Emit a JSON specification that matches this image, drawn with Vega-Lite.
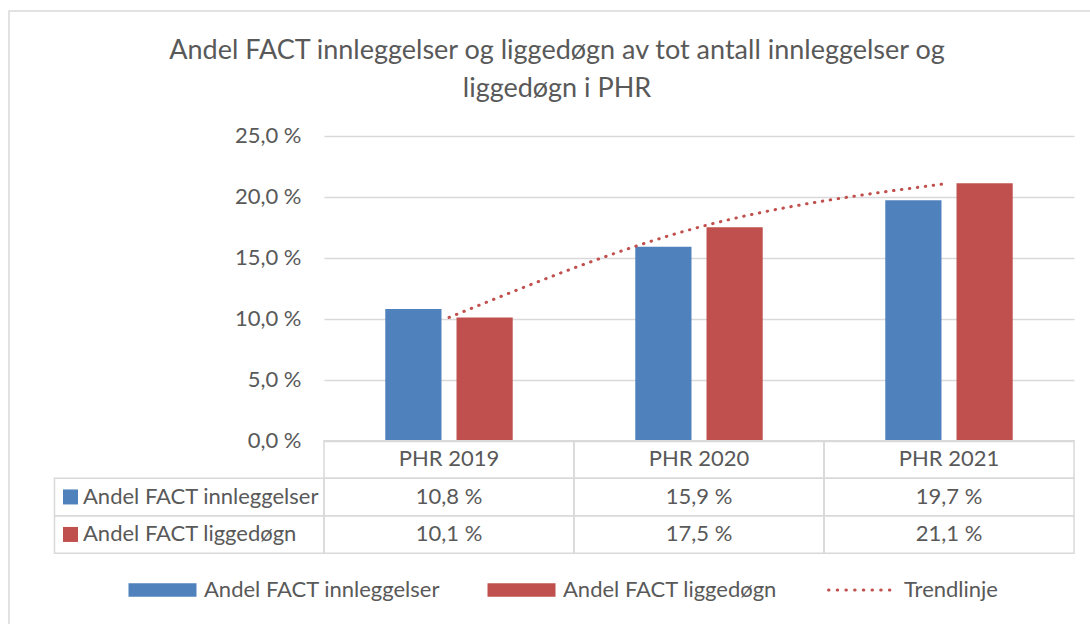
{
  "$schema": "https://vega.github.io/schema/vega-lite/v6.json",
  "autosize": "none",
  "padding": {"left": 9, "top": 11, "right": -5, "bottom": -5},
  "width": 1086,
  "height": 618,
  "background": "white",
  "config": {
    "font": "Lato",
    "view": {"stroke": "#D9D9D9", "strokeWidth": 1.5},
    "locale": {"number": {"decimal": ",", "thousands": " ", "grouping": [3], "currency": ["", " kr"], "percent": " %"}}
  },
  "title": {
    "text": ["Andel FACT innleggelser og liggedøgn av tot antall innleggelser og", "liggedøgn i PHR"],
    "font": "Lato", "fontSize": 27, "fontWeight": "normal", "color": "#595959",
    "anchor": "middle", "baseline": "top", "offset": -92, "lineHeight": 38, "dx": 5
  },
  "datasets": {
    "bars": [
      {"periode": "PHR 2019", "serie": "Andel FACT innleggelser", "andel": 0.108},
      {"periode": "PHR 2019", "serie": "Andel FACT liggedøgn", "andel": 0.101},
      {"periode": "PHR 2020", "serie": "Andel FACT innleggelser", "andel": 0.159},
      {"periode": "PHR 2020", "serie": "Andel FACT liggedøgn", "andel": 0.175},
      {"periode": "PHR 2021", "serie": "Andel FACT innleggelser", "andel": 0.197},
      {"periode": "PHR 2021", "serie": "Andel FACT liggedøgn", "andel": 0.211}
    ]
  },
  "data": {"name": "bars"},
  "layer": [
    {
      "mark": {"type": "bar"},
      "encoding": {
        "x": {"field": "periode", "type": "nominal", "axis": null,
              "scale": {"domain": ["PHR 2019", "PHR 2020", "PHR 2021"], "range": [315, 1065], "paddingInner": 0, "paddingOuter": 0}},
        "xOffset": {"field": "serie", "type": "nominal",
              "scale": {"domain": ["Andel FACT innleggelser", "Andel FACT liggedøgn"], "paddingInner": 0.211, "paddingOuter": 0.86}},
        "y": {"field": "andel", "type": "quantitative",
              "scale": {"domain": [0, 0.25], "range": [429.7, 124.7], "nice": false, "zero": true},
              "axis": {"title": null, "format": ".1%", "values": [0, 0.05, 0.1, 0.15, 0.2, 0.25],
                       "domain": false, "ticks": false, "tickSize": 0, "labelPadding": 0, "offset": -292,
                       "grid": true, "gridColor": "#D9D9D9", "gridWidth": 1.5,
                       "labelFont": "Lato", "labelFontSize": 22, "labelColor": "#595959"}},
        "color": {"field": "serie", "type": "nominal",
              "scale": {"domain": ["Andel FACT innleggelser", "Andel FACT liggedøgn", "Trendlinje"], "range": ["#4F81BD", "#C0504D", "#C0504D"]},
              "legend": {
                "orient": "none", "legendX": 117, "legendY": 568, "direction": "horizontal", "title": null,
                "padding": 0, "columnPadding": 44, "labelOffset": 56, "labelLimit": 0,
                "symbolType": "M-1,-0.79H7V0.79H-1Z", "symbolSize": 289, "symbolStrokeWidth": 0,
                "labelFont": "Lato", "labelFontSize": 22, "labelColor": "#595959",
                "encode": {
                  "symbols": {
                    "update": {
                      "shape": {"signal": "datum.value === 'Trendlinje' ? 'M-1,0H7' : 'M-1,-0.79H7V0.79H-1Z'"},
                      "fill": {"signal": "datum.value === 'Andel FACT innleggelser' ? '#4F81BD' : (datum.value === 'Andel FACT liggedøgn' ? '#C0504D' : 'transparent')"},
                      "stroke": {"signal": "datum.value === 'Trendlinje' ? '#C0504D' : 'transparent'"},
                      "strokeWidth": {"signal": "datum.value === 'Trendlinje' ? 3 : 0"},
                      "strokeDash": {"signal": "datum.value === 'Trendlinje' ? [0.5, 8.2] : [1, 0]"},
                      "strokeCap": {"value": "round"},
                      "opacity": {"value": 1}
                    }
                  }
                }
              }}
      }
    },
    {
      "transform": [{"filter": "datum.serie === 'Andel FACT liggedøgn'"}],
      "mark": {"type": "line", "interpolate": "monotone", "strokeDash": [0.5, 7.5], "strokeCap": "round", "strokeWidth": 3},
      "encoding": {
        "x": {"field": "periode", "type": "nominal", "axis": null,
              "scale": {"domain": ["PHR 2019", "PHR 2020", "PHR 2021"], "range": [315, 1065], "paddingInner": 0, "paddingOuter": 0}},
        "y": {"field": "andel", "type": "quantitative", "axis": null,
              "scale": {"domain": [0, 0.25], "range": [429.7, 124.7], "nice": false, "zero": true}},
        "color": {"datum": "Trendlinje", "type": "nominal"}
      }
    },
    {
      "mark": {"type": "rect", "fill": "transparent", "stroke": "#D9D9D9", "strokeWidth": 1.5},
      "encoding": {
        "x": {"field": "periode", "type": "nominal", "axis": null,
              "scale": {"domain": ["PHR 2019", "PHR 2020", "PHR 2021"], "range": [315, 1065], "paddingInner": 0, "paddingOuter": 0}},
        "y": {"field": "serie", "type": "nominal", "axis": null,
              "scale": {"domain": ["header", "Andel FACT innleggelser", "Andel FACT liggedøgn"], "range": [429.7, 542.2], "paddingInner": 0, "paddingOuter": 0}}
      }
    },
    {
      "transform": [{"filter": "datum.serie === 'Andel FACT innleggelser'"}],
      "mark": {"type": "rect", "fill": "transparent", "stroke": "#D9D9D9", "strokeWidth": 1.5},
      "encoding": {
        "x": {"field": "periode", "type": "nominal", "axis": null,
              "scale": {"domain": ["PHR 2019", "PHR 2020", "PHR 2021"], "range": [315, 1065], "paddingInner": 0, "paddingOuter": 0}},
        "y": {"datum": "header", "type": "nominal", "axis": null,
              "scale": {"domain": ["header", "Andel FACT innleggelser", "Andel FACT liggedøgn"], "range": [429.7, 542.2], "paddingInner": 0, "paddingOuter": 0}}
      }
    },
    {
      "mark": {"type": "text", "font": "Lato", "fontSize": 22, "color": "#595959", "align": "center", "baseline": "middle"},
      "encoding": {
        "x": {"field": "periode", "type": "nominal", "axis": null,
              "scale": {"domain": ["PHR 2019", "PHR 2020", "PHR 2021"], "range": [315, 1065], "paddingInner": 0, "paddingOuter": 0}},
        "y": {"field": "serie", "type": "nominal", "axis": null,
              "scale": {"domain": ["header", "Andel FACT innleggelser", "Andel FACT liggedøgn"], "range": [429.7, 542.2], "paddingInner": 0, "paddingOuter": 0}},
        "text": {"field": "andel", "type": "quantitative", "format": ".1%"}
      }
    },
    {
      "transform": [{"filter": "datum.serie === 'Andel FACT innleggelser'"}],
      "mark": {"type": "text", "font": "Lato", "fontSize": 22, "color": "#595959", "align": "center", "baseline": "middle"},
      "encoding": {
        "x": {"field": "periode", "type": "nominal", "axis": null,
              "scale": {"domain": ["PHR 2019", "PHR 2020", "PHR 2021"], "range": [315, 1065], "paddingInner": 0, "paddingOuter": 0}},
        "y": {"datum": "header", "type": "nominal", "axis": null,
              "scale": {"domain": ["header", "Andel FACT innleggelser", "Andel FACT liggedøgn"], "range": [429.7, 542.2], "paddingInner": 0, "paddingOuter": 0}},
        "text": {"field": "periode", "type": "nominal"}
      }
    },
    {
      "transform": [{"filter": "datum.periode === 'PHR 2019'"}],
      "mark": {"type": "rect", "fill": "transparent", "stroke": "#D9D9D9", "strokeWidth": 1.5},
      "encoding": {
        "x": {"datum": "label", "type": "nominal", "axis": null,
              "scale": {"domain": ["label"], "range": [45.5, 315], "paddingInner": 0, "paddingOuter": 0}},
        "y": {"field": "serie", "type": "nominal", "axis": null,
              "scale": {"domain": ["header", "Andel FACT innleggelser", "Andel FACT liggedøgn"], "range": [429.7, 542.2], "paddingInner": 0, "paddingOuter": 0}}
      }
    },
    {
      "transform": [{"filter": "datum.periode === 'PHR 2019'"}],
      "mark": {"type": "square", "size": 225, "opacity": 1, "xOffset": -118.75},
      "encoding": {
        "x": {"datum": "label", "type": "nominal", "axis": null,
              "scale": {"domain": ["label"], "range": [45.5, 315], "paddingInner": 0, "paddingOuter": 0}},
        "y": {"field": "serie", "type": "nominal", "axis": null,
              "scale": {"domain": ["header", "Andel FACT innleggelser", "Andel FACT liggedøgn"], "range": [429.7, 542.2], "paddingInner": 0, "paddingOuter": 0}},
        "color": {"field": "serie", "type": "nominal"}
      }
    },
    {
      "transform": [{"filter": "datum.periode === 'PHR 2019'"}],
      "mark": {"type": "text", "font": "Lato", "fontSize": 22, "color": "#595959", "align": "left", "baseline": "middle", "dx": -106.25},
      "encoding": {
        "x": {"datum": "label", "type": "nominal", "axis": null,
              "scale": {"domain": ["label"], "range": [45.5, 315], "paddingInner": 0, "paddingOuter": 0}},
        "y": {"field": "serie", "type": "nominal", "axis": null,
              "scale": {"domain": ["header", "Andel FACT innleggelser", "Andel FACT liggedøgn"], "range": [429.7, 542.2], "paddingInner": 0, "paddingOuter": 0}},
        "text": {"field": "serie", "type": "nominal"}
      }
    }
  ],
  "resolve": {"scale": {"x": "independent", "y": "independent"}}
}
